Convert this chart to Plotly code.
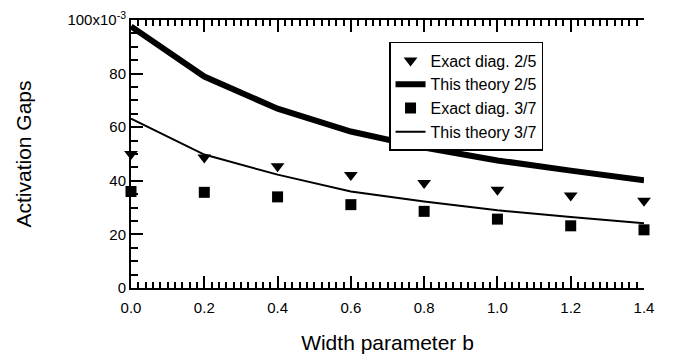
import plotly.graph_objects as go

b = [0.0, 0.2, 0.4, 0.6, 0.8, 1.0, 1.2, 1.4]
exact_25 = [50.0, 48.7, 45.4, 42.2, 39.2, 36.7, 34.5, 32.6]
theory_25 = [97.6, 78.9, 66.9, 58.4, 52.4, 47.6, 43.8, 40.2]
exact_37 = [36.0, 35.7, 34.0, 31.1, 28.6, 25.7, 23.2, 21.7]
theory_37 = [63.2, 49.8, 42.3, 36.0, 32.3, 29.0, 26.5, 24.2]

ytickvals = [0, 20, 40, 60, 80, 100]
yticktext = ["0", "20", "40", "60", "80", "100x10<sup>-3</sup>"]
xtickvals = [0.0, 0.2, 0.4, 0.6, 0.8, 1.0, 1.2, 1.4]
xticktext = ["0.0", "0.2", "0.4", "0.6", "0.8", "1.0", "1.2", "1.4"]

font = "Liberation Sans, Arial, Helvetica, sans-serif"

fig = go.Figure()
fig.add_trace(go.Scatter(x=b, y=exact_25, mode="markers", name="Exact diag. 2/5",
                         marker=dict(symbol="triangle-down", size=12, color="black"),
                         cliponaxis=False))
fig.add_trace(go.Scatter(x=b, y=theory_25, mode="lines", name="This theory 2/5",
                         line=dict(color="black", width=6), cliponaxis=False))
fig.add_trace(go.Scatter(x=b, y=exact_37, mode="markers", name="Exact diag. 3/7",
                         marker=dict(symbol="square", size=11, color="black"),
                         cliponaxis=False))
fig.add_trace(go.Scatter(x=b, y=theory_37, mode="lines", name="This theory 3/7",
                         line=dict(color="black", width=2), cliponaxis=False))

fig.update_layout(
    width=673, height=360,
    margin=dict(l=131, r=29, t=20, b=72, autoexpand=False),
    paper_bgcolor="white", plot_bgcolor="white",
    font=dict(family=font, size=15, color="black"),
    showlegend=True,
    legend=dict(x=0.503, y=0.918, xanchor="left", yanchor="top",
                bgcolor="white", bordercolor="black", borderwidth=1.5,
                font=dict(size=16), tracegroupgap=0, itemwidth=30),
    xaxis=dict(
        range=[0, 1.4], showgrid=False, zeroline=False, automargin=False,
        showline=True, linecolor="black", linewidth=2, mirror="ticks",
        ticks="inside", ticklen=12, tickwidth=2, tickcolor="black",
        tickvals=xtickvals, ticktext=xticktext,
        tickfont=dict(size=15), ticklabelstandoff=5,
        minor=dict(ticks="inside", ticklen=6, tickwidth=1.5, tickcolor="black",
                   dtick=0.02, tick0=0, showgrid=False),
        title=dict(text="Width parameter b", font=dict(size=21), standoff=20),
    ),
    yaxis=dict(
        range=[0, 100], showgrid=False, zeroline=False, automargin=False,
        showline=True, linecolor="black", linewidth=2, mirror=False,
        ticks="inside", ticklen=12, tickwidth=2, tickcolor="black",
        tickvals=ytickvals, ticktext=yticktext,
        tickfont=dict(size=15),
        minor=dict(ticks="inside", ticklen=7, tickwidth=1.5, tickcolor="black",
                   dtick=5, tick0=0, showgrid=False),
        title=dict(text="Activation Gaps", font=dict(size=21), standoff=30),
    ),
)

fig.write_html("out.html")
